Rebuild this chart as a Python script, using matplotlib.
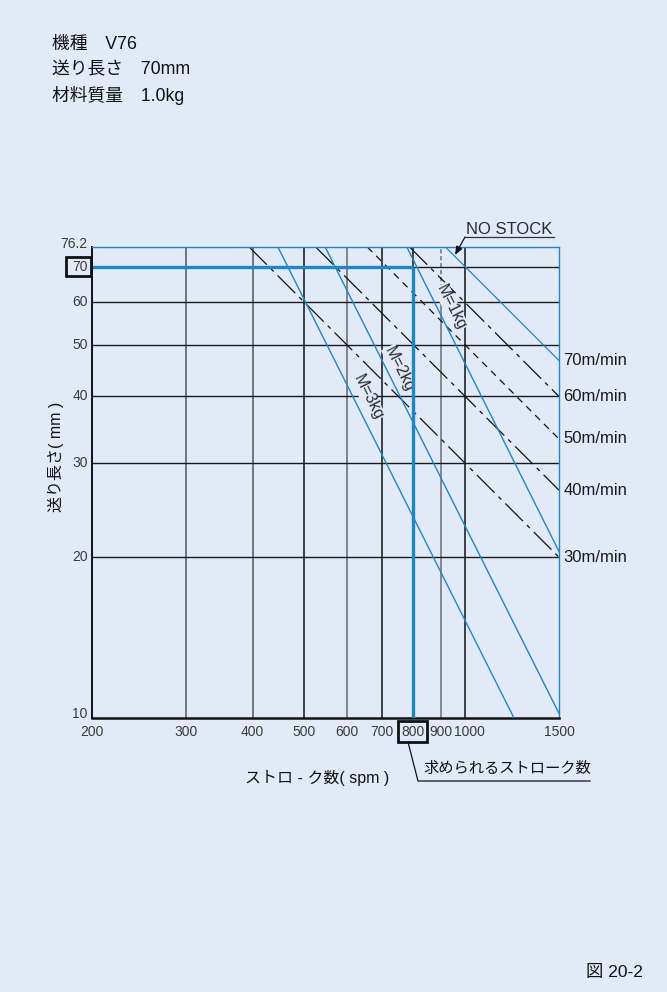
import matplotlib
matplotlib.use("Agg")
import matplotlib.pyplot as plt
import numpy as np
from matplotlib.ticker import NullLocator
from matplotlib.patches import Rectangle
from matplotlib.lines import Line2D

plt.rcParams['font.family'] = ['Liberation Sans', 'Noto Sans CJK JP', 'DejaVu Sans']
plt.rcParams['lines.scale_dashes'] = False

# ---------------- data ----------------
x_ticks = [200, 300, 400, 500, 600, 700, 800, 900, 1000, 1500]
x_ticklabels = ["200", "300", "400", "500", "600", "700", "800", "900", "1000", "1500"]
y_ticks = [10, 20, 30, 40, 50, 60, 70, 76.2]
y_ticklabels = ["10", "20", "30", "40", "50", "60", "70", "76.2"]

speed_labels = ["30m/min", "40m/min", "50m/min", "60m/min", "70m/min"]
speed_spm_start = [394, 525, 656, 787, 919]      # stroke where line meets 76.2 mm
speed_len_end = [20.0, 26.7, 33.3, 40.0, 46.7]   # feed length at 1500 spm

mass_labels = ["M=1kg", "M=2kg", "M=3kg"]
mass_spm = [[778, 1500], [547, 1500], [446, 1235]]
mass_len = [[76.2, 20.5], [76.2, 10.2], [76.2, 10.0]]

sel_feed = 70
sel_spm = 800

# ---------------- style ----------------
bg = '#e3eaf7'
blue = '#1f86c6'
W, H = 667, 992

fig = plt.figure(figsize=(W / 100, H / 100), dpi=100)
fig.patch.set_facecolor(bg)
L, R, T, B = 92, 559, 247, 718
ax = fig.add_axes([L / W, 1 - B / H, (R - L) / W, (B - T) / H])
ax.set_facecolor(bg)
ax.set_xscale('log')
ax.set_yscale('log')
ax.set_xlim(200, 1500)
ax.set_ylim(10, 76.2)
ax.xaxis.set_minor_locator(NullLocator())
ax.yaxis.set_minor_locator(NullLocator())
ax.set_xticks(x_ticks)
ax.set_xticklabels([])
ax.set_yticks(y_ticks)
ax.set_yticklabels([])
ax.tick_params(length=0)

# tick labels drawn as annotations (allows the small nudges seen in the original)
x_nudge = {1000: 3.0}
for xv, lab in zip(x_ticks, x_ticklabels):
    ax.annotate(lab, xy=(xv, 0), xycoords=('data', 'axes fraction'),
                xytext=(x_nudge.get(xv, 0), -5), textcoords='offset points',
                ha='center', va='top', fontsize=10, color='#3a3a3a',
                annotation_clip=False)
y_nudge = {10: 3.0, 76.2: 2.0}
for yv, lab in zip(y_ticks, y_ticklabels):
    ax.annotate(lab, xy=(0, yv), xycoords=('axes fraction', 'data'),
                xytext=(-3, y_nudge.get(yv, 0)), textcoords='offset points',
                ha='right', va='center', fontsize=10, color='#3a3a3a',
                annotation_clip=False)

for s in ['left', 'bottom']:
    ax.spines[s].set_color('#111111')
ax.spines['left'].set_linewidth(1.4)
ax.spines['bottom'].set_linewidth(1.8)
for s in ['top', 'right']:
    ax.spines[s].set_color(blue)
    ax.spines[s].set_linewidth(1.0)

# grid
vcolors = {300: '#555555', 400: '#555555', 500: '#111111', 600: '#666666',
           700: '#111111', 800: '#111111', 900: '#777777', 1000: '#111111'}
for xv in x_ticks[1:-1]:
    if xv == 900:
        ax.plot([xv, xv], [60, 76.2], color='#777777', lw=1.2, ls=(0, (3, 2)), zorder=1)
        ax.plot([xv, xv], [10, 60], color='#777777', lw=1.2, zorder=1)
    else:
        ax.axvline(xv, color=vcolors[xv], lw=1.1, zorder=1)
for yv in y_ticks[1:-1]:
    ax.axhline(yv, color='#1a1a1a', lw=1.0, zorder=1)

# speed lines
styles = [(0, (18, 4, 3, 4)), (0, (18, 4, 3, 4)), (0, (5, 4)), (0, (18, 4, 3, 4)), '-']
colors = ['#111111', '#111111', '#111111', '#111111', blue]
for lab, n0, l1, st, c in zip(speed_labels, speed_spm_start, speed_len_end, styles, colors):
    ax.plot([n0, 1500], [76.2, l1], color=c, lw=0.9, ls=st, zorder=2)
    ax.annotate(lab, xy=(1500, l1), xytext=(3, 0), textcoords='offset points',
                ha='left', va='center', fontsize=12, color='#1a1a1a',
                annotation_clip=False)

# mass lines
for xs, ys in zip(mass_spm, mass_len):
    ax.plot(xs, ys, color=blue, lw=1.0, zorder=3)

fig.canvas.draw()
p1 = ax.transData.transform((mass_spm[2][0], mass_len[2][0]))
p2 = ax.transData.transform((mass_spm[2][1], mass_len[2][1]))
ang = np.degrees(np.arctan2(p2[1] - p1[1], p2[0] - p1[0]))
label_px = [(451, 307), (399, 369), (368, 397)]
inv = ax.transData.inverted()
for lab, (px, py) in zip(mass_labels, label_px):
    dx, dy = inv.transform((px, H - py))
    ax.text(dx, dy, lab, rotation=ang, rotation_mode='anchor', ha='center', va='center',
            fontsize=11.5, color='#2a2a2a', zorder=4,
            bbox=dict(fc=bg, ec='none', pad=0.3))

# selected point
ax.plot([200, sel_spm], [sel_feed, sel_feed], color=blue, lw=2.4, zorder=5,
        solid_capstyle='butt')
ax.plot([sel_spm, sel_spm], [10, sel_feed], color=blue, lw=2.4, zorder=5,
        solid_capstyle='butt')

# boxes around 70 and 800
def fbox(x0, y0, x1, y1):
    fig.add_artist(Rectangle((x0 / W, 1 - y1 / H), (x1 - x0) / W, (y1 - y0) / H,
                             transform=fig.transFigure, fill=False, ec='#111111', lw=2.0))
fbox(66, 257, 91, 276)
fbox(398, 721, 427, 742)

# leader to 求められるストローク数
fig.add_artist(Line2D([408 / W, 418 / W, 590 / W], [1 - 742 / H, 1 - 781 / H, 1 - 781 / H],
                      transform=fig.transFigure, color='#111111', lw=0.9))
fig.text(423 / W, 1 - 769 / H, "求められるストローク数", fontsize=11, ha='left', va='center',
         color='#111111')

# NO STOCK
fig.add_artist(Line2D([465 / W, 554 / W], [1 - 237 / H, 1 - 237 / H],
                      transform=fig.transFigure, color='#333333', lw=0.9))
ax.annotate("", xy=(455 / W, 1 - 255 / H), xycoords='figure fraction',
            xytext=(465 / W, 1 - 237 / H), textcoords='figure fraction',
            arrowprops=dict(arrowstyle='-|>,head_length=0.5,head_width=0.2',
                            color='#111111', lw=0.9, shrinkA=0, shrinkB=0))
fig.text(509 / W, 1 - 229 / H, "NO STOCK", fontsize=12, ha='center', va='center',
         color='#2a2a2a')

# axis labels
fig.text(317 / W, 1 - 778 / H, "ストロ - ク数( spm )", fontsize=11.5, ha='center',
         va='center', color='#111111')
fig.text(56 / W, 1 - 457 / H, "送り長さ( mm )", fontsize=11.5, ha='center', va='center',
         rotation=90, color='#111111')

# header
for i, t in enumerate(["機種\u3000V76", "送り長さ\u300070mm", "材料質量\u30001.0kg"]):
    fig.text(52 / W, 1 - (45 + 25 * i) / H, t, fontsize=12.8, ha='left', va='center',
             color='#111111')

fig.text(586 / W, 1 - 972 / H, "図 20-2", fontsize=12.5, ha='left', va='center',
         color='#111111')

fig.savefig("out.png", dpi=100, facecolor=bg)
